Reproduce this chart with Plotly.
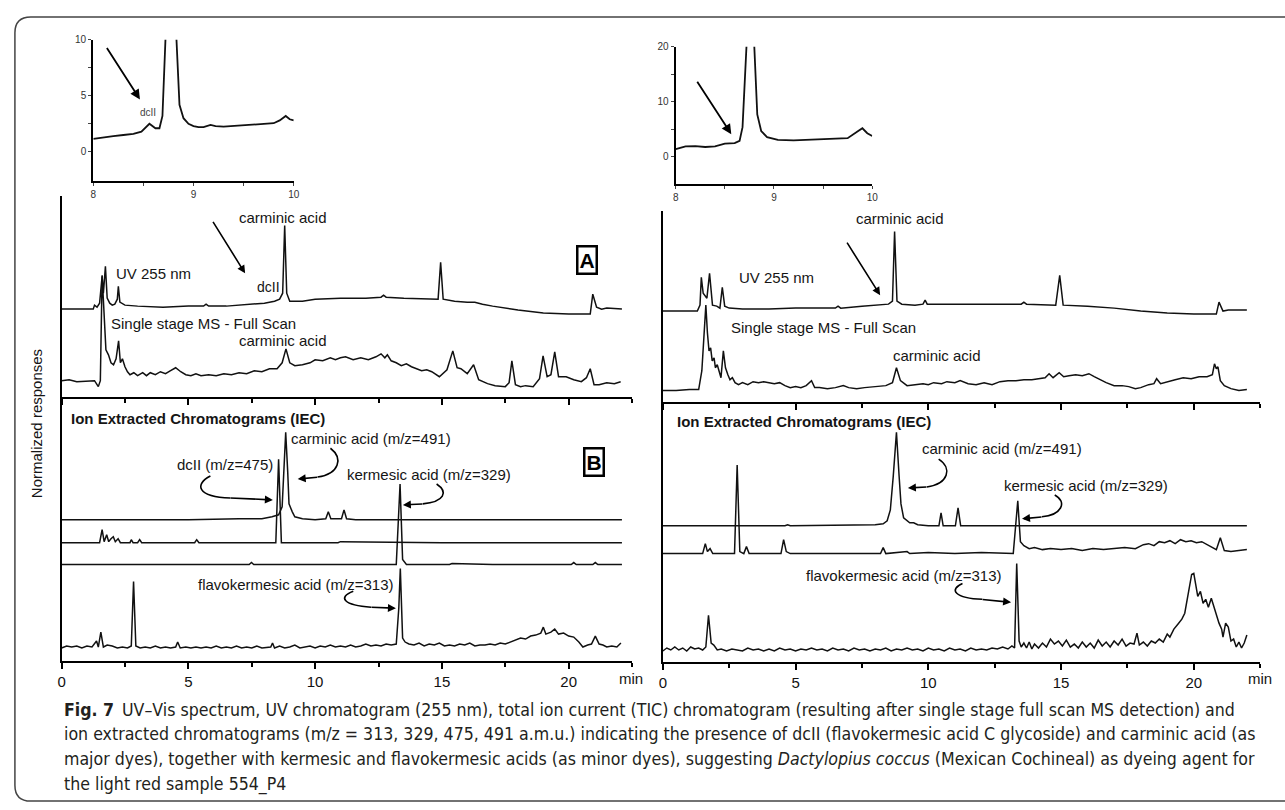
import plotly.graph_objects as go

W, H = 1285, 810

# ---------------- data: (retention time [min], response above own baseline [a.u.]) ----------------
LEFT_UV = [(0,0),(1.25,0),(1.3,4),(1.4,2),(1.5,6),(1.6,33),(1.65,16),(1.73,43),(1.8,11),(1.9,6),(2.0,4),(2.1,5),
           (2.2,10),(2.24,23),(2.3,7),(2.5,4),(3.0,3),(4.0,2),(5.0,3),(5.6,3),(5.7,5),(5.8,3),(6.5,3),(7.5,5),(8.0,6),
           (8.4,8),(8.6,10),(8.72,16),(8.8,84),(8.88,16),(9.0,8),(9.5,8),(10.0,10),(11.0,11),(12.0,11),(12.6,12),
           (12.7,14),(12.8,12),(13.5,11),(14.85,10),(14.95,47),(15.05,10),(15.5,8),(16.0,7),(16.3,7),(16.6,5),(17.0,3),
           (18.0,-1),(19.0,-4),(20.0,-5),(20.85,-5),(20.95,15),(21.1,2),(21.3,0),(21.5,1),(22.1,0)]
LEFT_MS = [(0,0),(0.3,1),(0.6,-1),(1.0,0),(1.3,0),(1.45,-6),(1.53,0),(1.6,106),(1.68,58),(1.75,31),(1.85,26),(1.95,18),
           (2.05,16),(2.15,22),(2.25,40),(2.32,18),(2.4,22),(2.5,14),(2.6,9),(2.7,6),(2.85,8),(3.0,5),(3.2,8),(3.35,5),
           (3.5,8),(3.7,6),(3.9,9),(4.1,7),(4.3,10),(4.5,13),(4.7,9),(4.9,6),(5.1,5),(5.3,7),(5.5,5),(5.8,6),(6.1,5),
           (6.4,7),(6.7,6),(7.0,8),(7.3,7),(7.6,10),(7.9,9),(8.2,12),(8.5,12),(8.7,18),(8.85,32),(9.0,18),(9.2,15),
           (9.5,16),(9.8,18),(10.0,21),(10.3,20),(10.6,23),(10.8,21),(11.0,23),(11.2,24),(11.5,21),(11.8,23),(12.1,21),
           (12.4,24),(12.6,27),(12.75,23),(12.85,26),(13.0,20),(13.2,18),(13.4,15),(13.6,17),(13.8,14),(14.0,12),
           (14.2,10),(14.4,11),(14.6,9),(14.9,4),(15.2,11),(15.43,30),(15.6,13),(15.75,12),(16.0,7),(16.25,16),
           (16.45,1),(16.8,-3),(17.1,-5),(17.5,-6),(17.65,-2),(17.76,20),(17.9,-4),(18.1,-6),(18.3,-5),(18.6,-6),
           (18.85,2),(18.99,25),(19.15,4),(19.3,6),(19.45,29),(19.6,4),(19.9,4),(20.2,1),(20.5,-1),(20.7,3),(20.85,12),
           (21.0,-4),(21.2,-4),(21.5,-2),(21.8,-3),(22.05,-1)]
LEFT_IEC_491 = [(0,0),(5.0,0),(7.0,1),(7.9,1),(8.3,3),(8.56,5),(8.7,13),(8.77,48),(8.84,88),(8.92,48),(8.97,16),(9.1,8),
                (9.2,3),(9.5,1),(10.0,0),(10.42,1),(10.52,8),(10.62,1),(11.04,1),(11.14,10),(11.24,1),(11.6,0),(22.1,0)]
LEFT_IEC_475 = [(0,0),(1.5,0),(1.6,13),(1.68,1),(1.78,8),(1.86,1),(1.95,4),(2.04,6),(2.12,1),(2.23,4),(2.32,0),(2.7,0),
                (2.75,3),(2.82,0),(3.0,0),(3.08,3),(3.16,0),(5.25,0),(5.33,3),(5.42,0),(8.45,0),(8.56,84),(8.67,0),
                (9.0,0),(10.9,0),(11.0,1),(15.0,0),(22.1,0)]
LEFT_IEC_329 = [(0,0),(3.0,0),(7.4,0),(7.49,2),(7.58,0),(13.2,0),(13.35,81),(13.45,5),(13.6,0),(15.3,0),(15.4,1),(17.0,0),
                (20.1,0),(20.2,2),(20.3,0),(20.95,0),(21.05,2),(21.15,0),(22.1,0)]
LEFT_IEC_313 = [(0,0),(0.2,2),(0.4,1),(0.6,2),(0.8,0),(1.0,2),(1.2,1),(1.3,4),(1.38,7),(1.45,1),(1.55,16),(1.65,1),(1.8,3),
                (2.0,2),(2.2,0),(2.4,1),(2.6,0),(2.75,2),(2.84,67),(2.93,2),(3.1,0),(3.3,1),(3.5,0),(3.7,2),(3.9,0),(4.1,1),
                (4.3,0),(4.5,1),(4.58,6),(4.68,0),(4.9,1),(5.1,0),(5.3,1),(5.5,0),(5.7,1),(5.9,0),(6.1,2),(6.3,0),(6.5,1),
                (6.7,0),(6.9,2),(7.1,0),(7.3,1),(7.5,0),(7.7,2),(7.9,0),(8.1,1),(8.25,1),(8.32,5),(8.4,0),(8.6,2),(8.8,0),
                (9.0,1),(9.2,3),(9.4,0),(9.6,1),(9.8,2),(10.0,0),(10.2,2),(10.4,1),(10.6,3),(10.8,1),(11.0,2),(11.2,1),
                (11.4,3),(11.6,1),(11.8,2),(12.0,4),(12.2,2),(12.4,3),(12.6,2),(12.8,4),(13.0,3),(13.2,4),(13.3,40),
                (13.36,80),(13.45,10),(13.55,6),(13.7,4),(13.9,3),(14.1,5),(14.3,2),(14.5,4),(14.7,3),(14.9,5),(15.1,2),
                (15.3,3),(15.5,2),(15.7,4),(15.9,3),(16.1,5),(16.3,2),(16.5,3),(16.7,3),(16.9,4),(17.1,3),(17.3,5),
                (17.5,4),(17.7,6),(17.9,8),(18.1,10),(18.3,9),(18.5,12),(18.7,13),(18.9,15),(19.0,21),(19.1,14),(19.3,16),
                (19.45,19),(19.6,14),(19.8,15),(20.0,12),(20.2,11),(20.4,6),(20.56,1),(20.75,3),(20.9,4),(21.05,12),
                (21.2,4),(21.35,3),(21.5,1),(21.7,2),(21.9,1),(22.06,5)]

RIGHT_UV = [(0,0),(1.3,0),(1.4,6),(1.45,34),(1.52,18),(1.58,16),(1.66,13),(1.76,38),(1.87,6),(2.03,5),(2.15,3),(2.24,24),
            (2.33,5),(2.5,3),(3.0,2),(4.0,2),(5.0,3),(6.0,3),(6.5,3),(6.6,5),(6.7,3),(7.5,5),(8.0,6),(8.5,7),(8.65,10),
            (8.73,80),(8.82,10),(9.0,7),(9.5,6),(9.8,7),(9.88,11),(9.96,7),(10.5,7),(11.5,7),(12.5,7),(13.5,7),(13.6,9),
            (13.7,7),(14.8,6),(14.95,36),(15.08,6),(16.0,5),(17.0,3),(18.0,0),(19.0,-2),(20.0,-3),(20.85,-3),(20.95,9),
            (21.1,0),(21.3,1),(21.6,1),(22.0,1)]
RIGHT_MS = [(0,0),(0.5,0),(1.0,1),(1.35,1),(1.47,20),(1.55,58),(1.62,86),(1.68,58),(1.74,40),(1.8,43),(1.86,30),(1.93,33),
            (1.98,23),(2.05,26),(2.12,18),(2.19,13),(2.28,40),(2.36,23),(2.45,16),(2.53,11),(2.62,13),(2.72,8),(2.85,6),
            (3.0,8),(3.2,6),(3.4,9),(3.6,8),(3.8,9),(4.0,8),(4.2,7),(4.4,8),(4.6,5),(4.8,3),(5.0,4),(5.2,3),(5.4,5),
            (5.6,10),(5.72,3),(5.9,3),(6.2,2),(6.5,3),(6.8,5),(7.0,3),(7.3,2),(7.6,3),(8.0,4),(8.4,5),(8.65,8),(8.8,23),
            (8.95,10),(9.2,5),(9.5,6),(9.8,7),(10.0,6),(10.2,8),(10.5,7),(10.7,9),(11.0,8),(11.2,10),(11.5,7),(11.8,6),
            (12.1,8),(12.4,6),(12.7,9),(13.0,10),(13.3,10),(13.6,11),(13.9,11),(14.2,12),(14.4,13),(14.55,17),(14.7,13),
            (14.93,18),(15.1,14),(15.3,15),(15.55,16),(15.8,15),(16.05,17),(16.25,14),(16.45,11),(16.7,8),(17.0,5),
            (17.3,5),(17.55,4),(17.8,2),(18.0,3),(18.3,6),(18.5,7),(18.6,12),(18.75,7),(19.0,9),(19.3,11),(19.6,13),
            (19.9,12),(20.2,14),(20.5,14),(20.7,16),(20.78,27),(20.85,22),(20.91,24),(21.0,10),(21.15,5),(21.4,2),
            (21.7,0),(22.0,1)]
RIGHT_IEC_491 = [(0,0),(4.6,0),(4.7,1),(4.8,0),(8.0,1),(8.3,2),(8.45,5),(8.57,16),(8.68,50),(8.8,94),(8.9,50),(8.97,22),
                 (9.07,8),(9.3,3),(9.45,3),(9.6,1),(10.0,0),(10.4,0),(10.48,13),(10.56,0),(11.02,0),(11.12,18),(11.22,0),
                 (22.0,0)]
RIGHT_IEC_329 = [(0,0),(1.5,0),(1.6,10),(1.68,2),(1.78,5),(1.88,0),(2.7,0),(2.8,89),(2.9,2),(3.05,0),(3.15,7),(3.25,0),
                 (4.45,0),(4.55,14),(4.65,2),(4.8,0),(8.2,0),(8.3,6),(8.4,0),(9.2,2),(9.3,0),(10.0,1),(11.0,0),(12.0,1),
                 (13.2,0),(13.37,53),(13.47,12),(13.6,8),(13.8,5),(14.0,6),(14.3,4),(14.6,5),(15.0,4),(15.4,5),(15.8,3),
                 (16.2,5),(16.6,4),(17.0,5),(17.4,6),(17.8,5),(18.1,9),(18.3,10),(18.5,8),(18.7,12),(18.9,11),(19.1,13),
                 (19.3,10),(19.5,14),(19.7,12),(19.9,13),(20.1,11),(20.3,12),(20.5,9),(20.7,6),(20.85,4),(21.0,16),
                 (21.15,3),(21.4,2),(21.7,3),(22.0,4)]
RIGHT_IEC_313 = [(0,0),(0.15,3),(0.3,1),(0.45,4),(0.6,1),(0.75,3),(0.9,0),(1.05,4),(1.2,2),(1.35,3),(1.5,1),(1.62,4),
                 (1.72,36),(1.82,8),(1.92,6),(2.05,1),(2.2,2),(2.4,0),(2.6,2),(2.8,1),(3.0,0),(3.2,3),(3.4,1),(3.6,2),
                 (3.8,0),(4.0,2),(4.2,0),(4.4,3),(4.6,1),(4.8,2),(5.0,0),(5.2,2),(5.4,1),(5.6,3),(5.8,1),(6.0,2),(6.2,0),
                 (6.4,3),(6.6,1),(6.8,2),(7.0,0),(7.2,3),(7.4,1),(7.6,2),(7.8,0),(8.0,2),(8.2,1),(8.4,3),(8.6,0),(8.8,2),
                 (9.0,1),(9.2,3),(9.4,1),(9.6,2),(9.8,0),(10.0,3),(10.2,1),(10.4,2),(10.6,0),(10.8,3),(11.0,1),(11.2,2),
                 (11.4,0),(11.6,3),(11.8,1),(12.0,2),(12.2,1),(12.4,3),(12.6,2),(12.8,4),(13.0,2),(13.15,5),(13.25,3),
                 (13.33,88),(13.42,10),(13.5,4),(13.6,8),(13.7,3),(13.8,9),(13.9,2),(14.0,7),(14.15,3),(14.3,8),
                 (14.45,4),(14.6,12),(14.75,7),(14.9,10),(15.05,5),(15.2,11),(15.35,4),(15.5,7),(15.65,3),(15.8,9),
                 (15.95,4),(16.1,8),(16.25,3),(16.4,11),(16.55,5),(16.7,9),(16.85,4),(17.0,10),(17.15,6),(17.3,12),
                 (17.45,5),(17.6,8),(17.75,7),(17.86,18),(17.95,6),(18.1,9),(18.25,5),(18.4,10),(18.55,8),(18.7,12),
                 (18.85,9),(19.0,17),(19.1,14),(19.25,22),(19.4,27),(19.55,32),(19.66,38),(19.75,52),(19.85,70),
                 (19.92,77),(20.0,78),(20.08,64),(20.15,55),(20.25,60),(20.35,48),(20.45,52),(20.55,44),(20.66,53),
                 (20.75,45),(20.85,35),(20.95,28),(21.05,22),(21.1,14),(21.2,28),(21.3,24),(21.4,10),(21.5,12),
                 (21.6,4),(21.7,9),(21.8,3),(21.9,8),(22.0,16)]

INSET_LEFT = [(8.0,1.15),(8.1,1.3),(8.2,1.4),(8.3,1.5),(8.4,1.6),(8.48,1.8),(8.56,2.5),(8.62,2.1),(8.66,2.1),(8.69,3.2),
              (8.72,10),(8.775,60),(8.83,10),(8.86,4.2),(8.9,3.0),(8.95,2.5),(9.0,2.3),(9.05,2.2),(9.1,2.2),(9.17,2.4),
              (9.22,2.3),(9.3,2.25),(9.4,2.3),(9.5,2.35),(9.6,2.4),(9.7,2.45),(9.8,2.55),(9.86,2.8),(9.92,3.2),
              (9.96,2.9),(10.0,2.8)]
INSET_RIGHT = [(8.0,1.4),(8.05,1.6),(8.1,1.9),(8.2,1.95),(8.3,1.8),(8.4,1.9),(8.5,2.4),(8.6,2.5),(8.65,2.9),(8.68,5.4),
               (8.72,20),(8.76,80),(8.8,20),(8.83,7.7),(8.87,4.7),(8.93,3.6),(9.04,3.1),(9.2,3.0),(9.4,3.1),(9.6,3.2),
               (9.75,3.4),(9.85,4.6),(9.9,5.2),(9.95,4.3),(10.0,3.8)]

INSET_XTICKS = [8, 9, 10]
BOTTOM_XTICKS = [0, 5, 10, 15, 20]

# ---------------- layout helpers ----------------
FONT = "Arial, Liberation Sans, Helvetica, sans-serif"


def px(x, y):
    return x / W, 1 - y / H


fig = go.Figure()

# (data, baseline offset, axis pair)
TRACES = [
    (LEFT_UV, 88, "x", "y"), (LEFT_MS, 16, "x", "y"),
    (LEFT_IEC_491, 142, "x2", "y2"), (LEFT_IEC_475, 119, "x2", "y2"),
    (LEFT_IEC_329, 97, "x2", "y2"), (LEFT_IEC_313, 13, "x2", "y2"),
    (RIGHT_UV, 91, "x3", "y3"), (RIGHT_MS, 11, "x3", "y3"),
    (RIGHT_IEC_491, 137, "x4", "y4"), (RIGHT_IEC_329, 109, "x4", "y4"),
    (RIGHT_IEC_313, 11, "x4", "y4"),
    (INSET_LEFT, 0, "x5", "y5"), (INSET_RIGHT, 0, "x6", "y6"),
]
for data, off, xa, ya in TRACES:
    fig.add_trace(go.Scatter(
        x=[p[0] for p in data], y=[p[1] + off for p in data], mode="lines",
        line=dict(color="#111", width=1.5 if xa not in ("x5", "x6") else 1.8),
        xaxis=xa, yaxis=ya, showlegend=False, hoverinfo="skip"))


def xaxis(x0, x1, yanchor, labels):
    return dict(domain=[x0 / W, x1 / W], anchor=yanchor, range=[0, 22.5], showline=True, linecolor="black",
                linewidth=2, ticks="outside", ticklen=6, tickwidth=1.5, tickcolor="black", tickvals=BOTTOM_XTICKS,
                showticklabels=labels, tickfont=dict(family=FONT, size=15, color="#111"),
                minor=dict(dtick=2.5, tick0=0, ticks="outside", ticklen=4, tickwidth=1.5, tickcolor="black",
                           showgrid=False),
                showgrid=False, zeroline=False, fixedrange=True)


def yaxis(ytop, ybot, xanchor, rng):
    return dict(domain=[1 - ybot / H, 1 - ytop / H], anchor=xanchor, range=rng, showline=True, linecolor="black",
                linewidth=2, ticks="", showticklabels=False, showgrid=False, zeroline=False, fixedrange=True)


def inset_x(x0, x1, yanchor):
    return dict(domain=[x0 / W, x1 / W], anchor=yanchor, range=[8, 10], showline=True, linecolor="black",
                linewidth=2.2, ticks="outside", ticklen=3, tickwidth=1.2, tickvals=INSET_XTICKS,
                tickfont=dict(family=FONT, size=10, color="#333"),
                minor=dict(tickvals=[8.5, 9.5], ticks="outside", ticklen=3, tickwidth=1.2, showgrid=False),
                showgrid=False, zeroline=False, fixedrange=True)


def inset_y(ytop, ybot, xanchor, rng, major, minor):
    return dict(domain=[1 - ybot / H, 1 - ytop / H], anchor=xanchor, range=rng, showline=True, linecolor="black",
                linewidth=2.2, ticks="outside", ticklen=3, tickwidth=1.2, tickvals=major,
                tickfont=dict(family=FONT, size=10, color="#333"),
                minor=dict(tickvals=minor, ticks="outside", ticklen=3, tickwidth=1.2, showgrid=False),
                showgrid=False, zeroline=False, fixedrange=True)


layout = dict(
    width=W, height=H, margin=dict(l=0, r=0, t=0, b=0), autosize=False,
    paper_bgcolor="white", plot_bgcolor="white",
    xaxis=xaxis(58, 633, "y", False), yaxis=yaxis(192, 394, "x", [0, 202]),
    xaxis2=xaxis(58, 633, "y2", True), yaxis2=yaxis(394, 660, "x2", [0, 266]),
    xaxis3=xaxis(664, 1266, "y3", False), yaxis3=yaxis(207, 399, "x3", [0, 192]),
    xaxis4=xaxis(664, 1266, "y4", True), yaxis4=yaxis(399, 661, "x4", [0, 262]),
    xaxis5=inset_x(90, 292, "y5"), yaxis5=inset_y(35, 177, "x5", [-2.6, 10], [0, 5, 10], [2.5, 7.5]),
    xaxis6=inset_x(677, 875, "y6"), yaxis6=inset_y(42, 180, "x6", [-4.9, 20], [0, 10, 20], [5, 15]),
)
fig.update_layout(**layout)

ann = []


def label(s, x, y, size=15, color="#151515", xanchor="center", **kw):
    xp, yp = px(x, y)
    ann.append(dict(text=s, x=xp, y=yp, xref="paper", yref="paper", xanchor=xanchor, yanchor="middle",
                    showarrow=False, font=dict(family=FONT, size=size, color=color), **kw))


def arrow(tx, ty, hx, hy, width=1.6, size=1.0):
    xp, yp = px(hx, hy)
    ann.append(dict(text="", x=xp, y=yp, xref="paper", yref="paper", ax=tx - hx, ay=ty - hy,
                    axref="pixel", ayref="pixel", showarrow=True, arrowhead=2, arrowsize=size,
                    arrowwidth=width, arrowcolor="black", standoff=0, startstandoff=0))


shapes = []


def curve(p0, c1, c2, p1):
    pts = [px(*p) for p in (p0, c1, c2, p1)]
    path = "M {:.5f},{:.5f} C {:.5f},{:.5f} {:.5f},{:.5f} {:.5f},{:.5f}".format(*[v for p in pts for v in p])
    shapes.append(dict(type="path", path=path, xref="paper", yref="paper", line=dict(color="black", width=1.6)))


# ----- left panel -----
label("carminic acid", 281, 214)
arrow(210, 217, 243, 270)
label("dcII", 267, 284, size=14)
label("UV 255 nm", 151, 270)
label("Single stage MS - Full Scan", 201, 320)
label("carminic acid", 281, 338)
label("<b>A</b>", 588, 257, size=21, color="black", bordercolor="black", borderwidth=2.5, borderpad=1)
label("<b>Ion Extracted Chromatograms (IEC)</b>", 66, 416, size=15, xanchor="left")
label("carminic acid (m/z=491)", 370, 436)
label("dcII (m/z=475)", 223, 462)
label("kermesic acid (m/z=329)", 428, 472)
label("<b>B</b>", 595, 460, size=21, color="black", bordercolor="black", borderwidth=2.5, borderpad=1)
label("flavokermesic acid (m/z=313)", 294, 583)
label("Normalized responses", 33, 421, textangle=-90)
label("min", 632, 678, size=15)

curve((208, 474), (192, 482), (194, 495), (228, 496))
arrow(227, 496, 271, 498)
curve((329, 446), (342, 456), (338, 472), (316, 475))
arrow(317, 475, 296, 477)
curve((436, 482), (448, 490), (444, 500), (422, 502))
arrow(423, 502, 402, 503)
curve((352, 590), (336, 596), (342, 604), (370, 606))
arrow(369, 606, 395, 607)

# ----- right panel -----
label("carminic acid", 903, 215)
arrow(849, 238, 883, 292)
label("UV 255 nm", 779, 274)
label("Single stage MS - Full Scan", 826, 324)
label("carminic acid", 940, 353)
label("<b>Ion Extracted Chromatograms (IEC)</b>", 676, 419, size=15, xanchor="left")
label("carminic acid (m/z=491)", 1006, 446)
label("kermesic acid (m/z=329)", 1090, 483)
label("flavokermesic acid (m/z=313)", 907, 574)
label("min", 1266, 678, size=15)

curve((942, 457), (956, 466), (952, 482), (930, 485))
arrow(931, 485, 911, 486)
curve((1059, 493), (1072, 500), (1066, 513), (1046, 515))
arrow(1047, 515, 1026, 517)
curve((966, 582), (952, 588), (958, 597), (986, 598))
arrow(985, 598, 1015, 601)

# ----- insets -----
arrow(103, 42, 137, 95, width=1.8, size=1.1)
label("dcII", 145, 108, size=10, color="#444")
arrow(698, 76, 733, 130, width=1.8, size=1.1)

# ----- caption -----
CAP_FONT = "Liberation Sans Narrow, DejaVu Sans Condensed, Arial Narrow, sans-serif"
CAPTION = [
    "<b>Fig. 7</b>\u2002UV–Vis spectrum, UV chromatogram (255 nm), total ion current (TIC) chromatogram (resulting after "
    "single stage full scan MS detection) and",
    "ion extracted chromatograms (m/z = 313, 329, 475, 491 a.m.u.) indicating the presence of dcII (flavokermesic "
    "acid C glycoside) and carminic acid (as",
    "major dyes), together with kermesic and flavokermesic acids (as minor dyes), suggesting <i>Dactylopius coccus</i> "
    "(Mexican Cochineal) as dyeing agent for",
    "the light red sample 554_P4",
]
for i, line in enumerate(CAPTION):
    xp, yp = px(58, 709 + 25 * i)
    ann.append(dict(text=line, x=xp, y=yp, xref="paper", yref="paper", xanchor="left", yanchor="middle",
                    showarrow=False, font=dict(family=CAP_FONT, size=17.6, color="#231f20")))

# frame with rounded left corners
f = lambda x, y: "{:.5f},{:.5f}".format(*px(x, y))
shapes.append(dict(type="path", xref="paper", yref="paper", line=dict(color="#444", width=1.5),
                   path="M {} L {} Q {} {} L {} Q {} {} L {}".format(
                       f(1300, 12), f(27, 12), f(11, 12), f(11, 28), f(11, 785), f(11, 801), f(27, 801), f(1300, 801))))

fig.update_layout(annotations=ann, shapes=shapes)
fig.write_html("out.html")
